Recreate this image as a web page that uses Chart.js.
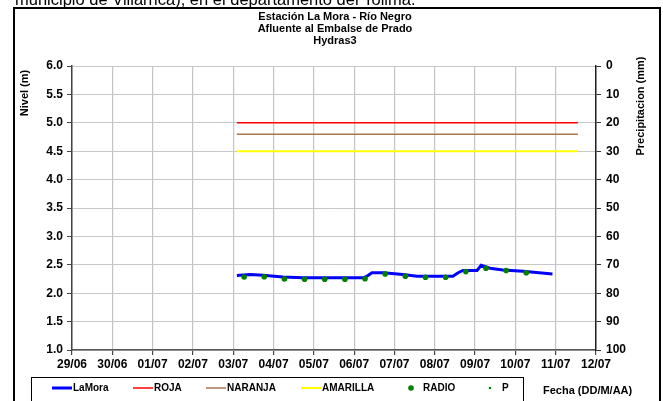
<!DOCTYPE html>
<html>
<head>
<meta charset="utf-8">
<script src="https://cdn.jsdelivr.net/npm/chart.js@4.4.1/dist/chart.umd.min.js"></script>
<style>
  html, body { margin: 0; padding: 0; background: #fff; overflow: hidden; }
  #wrap { position: relative; width: 663px; height: 401px; }
</style>
</head>
<body>
<div id="wrap"><canvas id="nivel" width="663" height="401"></canvas></div>
<script>
// --- datos ---
const tickLabels = ['29/06', '30/06', '01/07', '02/07', '03/07', '04/07', '05/07',
    '06/07', '07/07', '08/07', '09/07', '10/07', '11/07', '12/07'];

// LaMora (nivel en m), días desde 29/06
const lamoraDays = [4.09, 4.42, 4.74, 5.23, 5.73, 7.22, 7.32, 7.44, 7.72, 8.21,
    8.56, 9.45, 9.58, 9.70, 10.05, 10.15, 10.37, 10.69, 11.19, 11.92];
const lamoraLevels = [2.31, 2.33, 2.315, 2.285, 2.27, 2.27, 2.30, 2.36, 2.36, 2.33,
    2.30, 2.30, 2.36, 2.40, 2.40, 2.49, 2.44, 2.41, 2.385, 2.34];

// lecturas de radio
const radioDays = [4.27, 4.77, 5.27, 5.77, 6.27, 6.77, 7.27, 7.77, 8.27, 8.77,
    9.27, 9.77, 10.27, 10.77, 11.27];
const radioLevels = [2.285, 2.29, 2.25, 2.245, 2.245, 2.245, 2.255, 2.34, 2.30, 2.28,
    2.28, 2.38, 2.44, 2.40, 2.36];

// niveles de alerta
const alertDays = [4.09, 12.55];
const rojaLevel = 5.0;
const naranjaLevel = 4.8;
const amarillaLevel = 4.5;

// precipitación (mm)
const precipDays = [];
const precipValues = [];

const toPoints = (xs, ys) => xs.map((x, i) => ({ x: x, y: ys[i] }));
const flat = (xs, v) => xs.map(x => ({ x: x, y: v }));

const FONT = 'Arial, "Liberation Sans", sans-serif';

const decorations = {
    id: 'decorations',
    beforeDraw(chart) {
        const ctx = chart.ctx;
        ctx.save();
        ctx.fillStyle = '#fff';
        ctx.fillRect(0, 0, chart.width, chart.height);
        ctx.restore();
    },
    afterDraw(chart) {
        const ctx = chart.ctx;
        ctx.save();

        // texto del documento (cortado arriba)
        ctx.fillStyle = '#000';
        ctx.font = '16.5px ' + FONT;
        ctx.textBaseline = 'alphabetic';
        ctx.textAlign = 'left';
        ctx.fillText('municipio de Villarrica), en el departamento del Tolima.', 15, 5);

        // marco
        ctx.strokeStyle = '#000';
        ctx.lineWidth = 2;
        ctx.strokeRect(14, 8, 646, 420);

        // titulo
        ctx.font = 'bold 11px ' + FONT;
        ctx.textAlign = 'center';
        ctx.textBaseline = 'middle';
        ['Estación La Mora - Río Negro', 'Afluente al Embalse de Prado', 'Hydras3']
            .forEach((t, i) => ctx.fillText(t, 335, 17 + i * 12));

        // titulos de ejes
        ctx.save();
        ctx.translate(25, 93);
        ctx.rotate(-Math.PI / 2);
        ctx.fillText('Nivel (m)', 0, 0);
        ctx.restore();
        ctx.save();
        ctx.translate(641, 106);
        ctx.rotate(-Math.PI / 2);
        ctx.fillText('Precipitacion (mm)', 0, 0);
        ctx.restore();

        // leyenda
        ctx.lineWidth = 1;
        ctx.strokeStyle = '#000';
        ctx.strokeRect(31.5, 377.5, 492, 40);
        const itemX = [52, 133, 206, 301, 405, 484];
        const legendY = 388;
        ctx.font = 'bold 10px ' + FONT;
        ctx.textAlign = 'left';
        chart.data.datasets.forEach((ds, i) => {
            const x = itemX[i];
            if (ds.showLine === false) {
                ctx.fillStyle = ds.backgroundColor;
                ctx.beginPath();
                ctx.arc(x + 6, legendY, ds.pointRadius, 0, Math.PI * 2);
                ctx.fill();
                ctx.fillStyle = '#000';
                ctx.fillText(ds.label, x + 18, legendY);
            } else {
                ctx.strokeStyle = ds.borderColor;
                ctx.lineWidth = ds.borderWidth;
                ctx.beginPath();
                ctx.moveTo(x, legendY);
                ctx.lineTo(x + 20, legendY);
                ctx.stroke();
                ctx.fillStyle = '#000';
                ctx.fillText(ds.label, x + 21, legendY);
            }
        });

        ctx.font = 'bold 11px ' + FONT;
        ctx.fillText('Fecha (DD/M/AA)', 543, 391);
        ctx.restore();
    }
};

const tickFont = { family: FONT, weight: 'bold', size: 12 };

new Chart(document.getElementById('nivel'), {
    type: 'line',
    data: {
        datasets: [
            { label: 'LaMora', data: toPoints(lamoraDays, lamoraLevels), borderColor: '#0000ff',
              borderWidth: 3, pointRadius: 0, tension: 0, yAxisID: 'y', order: 1 },
            { label: 'ROJA', data: flat(alertDays, rojaLevel), borderColor: '#ff0000',
              borderWidth: 1.5, pointRadius: 0, yAxisID: 'y', order: 2 },
            { label: 'NARANJA', data: flat(alertDays, naranjaLevel), borderColor: '#a87550',
              borderWidth: 1.5, pointRadius: 0, yAxisID: 'y', order: 2 },
            { label: 'AMARILLA', data: flat(alertDays, amarillaLevel), borderColor: '#ffff00',
              borderWidth: 2, pointRadius: 0, yAxisID: 'y', order: 2 },
            { label: 'RADIO', data: toPoints(radioDays, radioLevels), showLine: false,
              backgroundColor: '#008000', borderColor: '#008000', borderWidth: 0,
              pointRadius: 2.8, yAxisID: 'y', order: 0 },
            { label: 'P', data: toPoints(precipDays, precipValues), showLine: false,
              backgroundColor: '#008000', borderColor: '#008000', borderWidth: 0,
              pointRadius: 1.3, yAxisID: 'y2', order: 0 }
        ]
    },
    options: {
        responsive: false,
        animation: false,
        events: [],
        layout: { padding: { top: 66, left: 0, right: 0, bottom: 0 } },
        plugins: { legend: { display: false }, tooltip: { enabled: false }, title: { display: false } },
        scales: {
            x: {
                type: 'linear', min: 0, max: 13,
                afterFit: s => { s.height = 51; },
                ticks: { stepSize: 1, color: '#000', font: tickFont, padding: 2, maxRotation: 0,
                         autoSkip: false, callback: v => tickLabels[v] },
                grid: { color: '#c4c4c4', lineWidth: 1.2, tickColor: '#444', tickLength: 5 },
                border: { color: '#555', width: 1.5 }
            },
            y: {
                position: 'left', min: 1, max: 6,
                afterFit: s => { s.width = 72; },
                ticks: { stepSize: 0.5, color: '#000', font: tickFont, padding: 4,
                         callback: v => v.toFixed(1) },
                grid: { color: '#c8c8c8', lineWidth: 1, tickColor: '#444', tickLength: 5 },
                border: { color: '#444', width: 1.5 }
            },
            y2: {
                position: 'right', min: 0, max: 100, reverse: true,
                afterFit: s => { s.width = 67; },
                ticks: { stepSize: 10, color: '#000', font: tickFont, padding: 5 },
                grid: { drawOnChartArea: false, tickColor: '#333', tickLength: 5 },
                border: { color: '#222', width: 1.5 }
            }
        }
    },
    plugins: [decorations]
});
</script>
</body>
</html>
